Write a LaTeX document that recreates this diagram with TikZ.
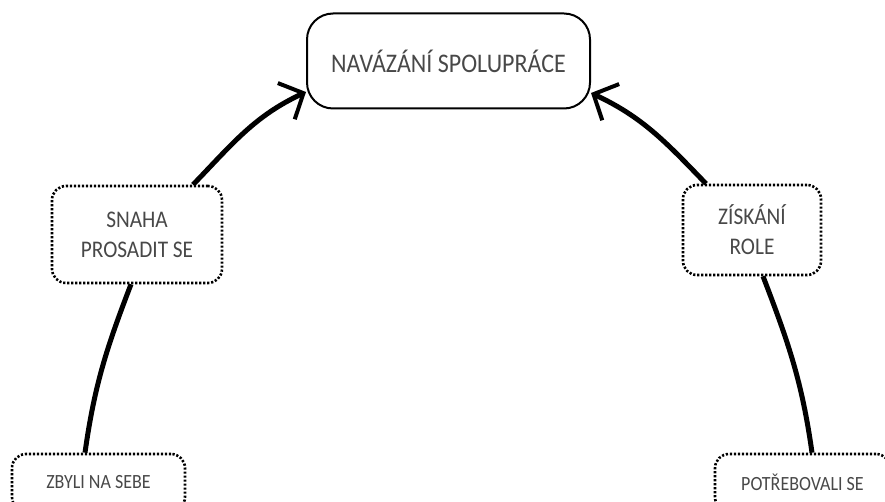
\documentclass[tikz,border=0pt]{standalone}
\usepackage{fontspec}
\usepackage{graphicx}
\setmainfont{Carlito}
\usetikzlibrary{arrows.meta}
\definecolor{txt}{RGB}{72,72,72}
\newcommand{\tallline}[1]{\scalebox{1}[1.12]{#1}}
\tikzset{
  mainbox/.style={draw=black, line width=2pt, rounded corners=26pt, minimum width=283pt, minimum height=95pt, inner sep=0pt, text=txt, font=\fontsize{24}{29}\selectfont},
  dotbox/.style={draw=black, line width=2.6pt, dash pattern=on 2.2pt off 1.8pt, rounded corners=14pt, inner sep=0pt, align=center, text=txt, font=\fontsize{21.3}{30}\selectfont},
  smallbox/.style={dotbox, font=\fontsize{18}{22}\selectfont},
  conn/.style={line width=5pt},
  arr/.style={conn, -{Straight Barb[length=19pt, width=40pt, line width=4pt]}}
}
\begin{document}
\begin{tikzpicture}[x=1pt,y=1pt]
\useasboundingbox (0,0) rectangle (885,501);
\node[mainbox] (top) at (448.5,440) {\tallline{NAVÁZÁNÍ SPOLUPRÁCE}};
\node[dotbox, minimum width=170pt, minimum height=97pt] (snaha) at (137,266.5) {\tallline{SNAHA}\\\tallline{PROSADIT SE}};
\node[dotbox, minimum width=138pt, minimum height=90pt] (ziskani) at (752,271) {\tallline{ZÍSKÁNÍ}\\\tallline{ROLE}};
\node[smallbox, minimum width=173pt, minimum height=57pt] (zbyli) at (98.5,18.5) {\tallline{ZBYLI NA SEBE}};
\node[smallbox, minimum width=175pt, minimum height=57pt] (potreb) at (802.5,18.5) {\tallline{POTŘEBOVALI SE}};
\draw[conn] ([xshift=-13.5pt]zbyli.north) to[out=82,in=249] ([xshift=-6pt]snaha.south);
\draw[arr] ([xshift=56pt]snaha.north) to[out=46,in=205] (top.west |- 0,409);
\draw[conn] ([xshift=9.5pt]potreb.north) to[out=98,in=291] ([xshift=11pt]ziskani.south);
\draw[arr] ([xshift=-46pt]ziskani.north) to[out=134,in=335] (top.east |- 0,408);
\end{tikzpicture}
\end{document}
